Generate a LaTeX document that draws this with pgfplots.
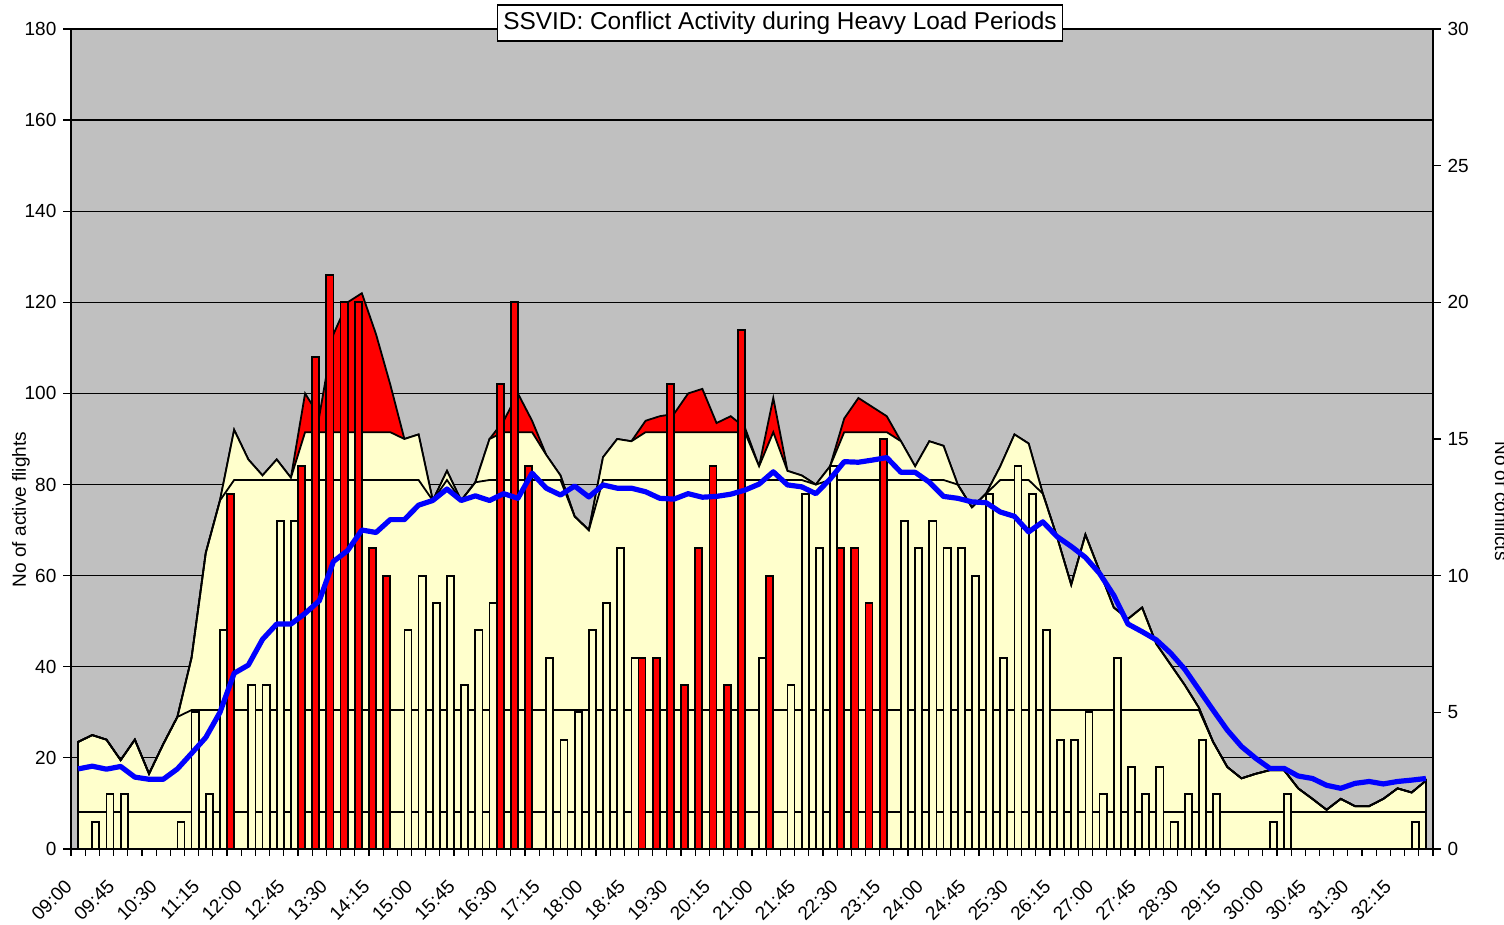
\documentclass[border=0pt]{standalone}
\usepackage{pgfplots}
\pgfplotsset{compat=1.18}
\usepackage{pgfplotstable}
\usepackage{fontspec}
\setmainfont{Liberation Sans}
\definecolor{bg}{HTML}{C0C0C0}
\definecolor{ylw}{HTML}{FFFFCC}
\definecolor{rd}{HTML}{FF0000}
\definecolor{bl}{HTML}{0000FF}
\newcommand{\tickfont}{\fontsize{9.5}{11}\selectfont}

\pgfplotstableread{
i f y4 b
0 23.5 23.5 2.93
1 25 25 3.03
2 24 24 2.92
3 19.5 19.5 3.02
4 24 24 2.63
5 16.5 16.5 2.55
6 23 23 2.55
7 29 29 2.93
8 42 42 3.50
9 65 65 4.08
10 76.5 76.5 5.00
11 92 92 6.43
12 85.5 85.5 6.73
13 82 82 7.67
14 85.5 85.5 8.23
15 81.5 81.5 8.23
16 100 91.5 8.62
17 95 91.5 9.08
18 113 91.5 10.52
19 120 91.5 10.92
20 122 91.5 11.67
21 113 91.5 11.58
22 102 91.5 12.05
23 90 90 12.05
24 91 91 12.58
25 76.5 76.5 12.75
26 83 83 13.17
27 76.5 76.5 12.75
28 80.5 80.5 12.92
29 90 90 12.75
30 94 91.5 13.00
31 100 91.5 12.83
32 94 91.5 13.75
33 86.5 86.5 13.20
34 82 82 12.95
35 73 73 13.28
36 70 70 12.88
37 86 86 13.32
38 90 90 13.20
39 89.5 89.5 13.20
40 94 91.5 13.07
41 95 91.5 12.83
42 95.5 91.5 12.80
43 100 91.5 13.00
44 101 91.5 12.87
45 93.5 91.5 12.90
46 95 91.5 12.98
47 92.5 91.5 13.13
48 84 84 13.35
49 99 91.5 13.80
50 83 83 13.32
51 82 82 13.25
52 80 80 13.00
53 84 84 13.53
54 94.5 91.5 14.17
55 99 91.5 14.15
56 97 91.5 14.23
57 95 91.5 14.32
58 89.5 89.5 13.78
59 84 84 13.78
60 89.5 89.5 13.42
61 88.5 88.5 12.90
62 80 80 12.83
63 75 75 12.70
64 78 78 12.67
65 84 84 12.33
66 91 91 12.17
67 89 89 11.60
68 78 78 11.97
69 68.5 68.5 11.43
70 58 58 11.07
71 69 69 10.67
72 61 61 10.08
73 53 53 9.28
74 50.5 50.5 8.23
75 53 53 7.95
76 45 45 7.65
77 40.5 40.5 7.17
78 36 36 6.58
79 31 31 5.83
80 23.5 23.5 5.08
81 18 18 4.35
82 15.5 15.5 3.75
83 16.5 16.5 3.32
84 17.3 17.3 2.95
85 17.3 17.3 2.95
86 13.3 13.3 2.67
87 11 11 2.58
88 8.6 8.6 2.33
89 11 11 2.22
90 9.4 9.4 2.40
91 9.4 9.4 2.47
92 11 11 2.38
93 13.3 13.3 2.47
94 12.4 12.4 2.52
95 15 15 2.58
}\flights

\pgfplotstableread{
i c
11 13
16 14
17 18
18 21
19 20
20 20
21 11
22 10
30 17
31 20
32 14
40 7
41 7
42 17
43 6
44 11
45 14
46 6
47 19
49 10
54 11
55 11
56 9
57 15
}\redbars

\pgfplotstableread{
i c
1 1
2 2
3 2
7 1
8 5
9 2
10 8
12 6
13 6
14 12
15 12
23 8
24 10
25 9
26 10
27 6
28 8
29 9
33 7
34 4
35 5
36 8
37 9
38 11
39 7
48 7
50 6
51 13
52 11
53 14
58 12
59 11
60 12
61 11
62 11
63 10
64 13
65 7
66 14
67 13
68 8
69 4
70 4
71 5
72 2
73 7
74 3
75 2
76 3
77 1
78 2
79 4
80 2
84 1
85 2
94 1
}\whitebars

\begin{document}
\begin{tikzpicture}
\useasboundingbox (0,0) rectangle (752pt,462.5pt);
\begin{axis}[
  at={(35.5pt,38pt)}, anchor=south west,
  scale only axis, width=681pt, height=410pt,
  xmin=-0.5, xmax=95.5, ymin=0, ymax=180,
  axis background/.style={fill=bg},
  axis x line*=bottom, axis y line*=left,
  axis line style={line width=0.7pt, -},
  ytick={0,20,...,180},
  ymajorgrids, grid style={black, line width=0.6pt},
  xtick={0,3,...,93},
  xticklabels={09:00,09:45,10:30,11:15,12:00,12:45,13:30,14:15,15:00,15:45,16:30,17:15,18:00,18:45,19:30,20:15,21:00,21:45,22:30,23:15,24:00,24:45,25:30,26:15,27:00,27:45,28:30,29:15,30:00,30:45,31:30,32:15},
  minor xtick={-0.5,0.5,...,95.5},
  tick align=outside,
  major x tick style={draw=none},
  minor tick length=3.5pt,
  major tick length=3.8pt,
  tick style={black, line width=0.6pt},
  xticklabel style={font=\tickfont, xshift=-4pt, yshift=-12.5pt, rotate=45, anchor=east, inner sep=1pt},
  yticklabel style={font=\tickfont},
  /pgf/number format/assume math mode=true,
]
\addplot[fill=rd, draw=black, line width=0.9pt] table[x=i, y=f] {\flights} \closedcycle;
\addplot[fill=ylw, draw=black, line width=0.9pt] table[x=i, y=y4] {\flights} \closedcycle;
\addplot[draw=black, line width=0.9pt] table[x=i, y expr={min(\thisrow{f},81)}] {\flights};
\addplot[draw=black, line width=0.9pt] table[x=i, y expr={min(\thisrow{f},30.5)}] {\flights};
\addplot[draw=black, line width=0.9pt] table[x=i, y expr={min(\thisrow{f},8.2)}] {\flights};
\end{axis}
\begin{axis}[
  at={(35.5pt,38pt)}, anchor=south west,
  scale only axis, width=681pt, height=410pt,
  xmin=-0.5, xmax=95.5, ymin=0, ymax=30,
  axis x line=none, axis y line*=right,
  axis line style={line width=0.7pt, -},
  ytick={0,5,...,30},
  tick align=outside, major tick length=3.8pt,
  tick style={black, line width=0.6pt},
  yticklabel style={font=\tickfont},
  /pgf/number format/assume math mode=true,
]
\addplot[ybar, bar width=0.5, bar shift=-0.25, fill=rd, draw=black, line width=0.9pt] table[x=i, y=c] {\redbars};
\addplot[ybar, bar width=0.5, bar shift=0.25, fill=ylw, draw=black, line width=0.9pt] table[x=i, y=c] {\whitebars};
\addplot[bl, line width=2.6pt, line join=round] table[x=i, y=b] {\flights};
\end{axis}
\node[rotate=90, font=\tickfont] at (10.5pt,207.75pt) {No of active flights};
\node[rotate=-90, font=\tickfont, overlay] at (751pt,212pt) {No of conflicts};
\node[draw=black, line width=0.6pt, fill=white, inner xsep=3pt, minimum height=17pt, font=\fontsize{12.2}{14}\selectfont] at (390pt,451pt) {SSVID: Conflict Activity during Heavy Load Periods};
\end{tikzpicture}
\end{document}
